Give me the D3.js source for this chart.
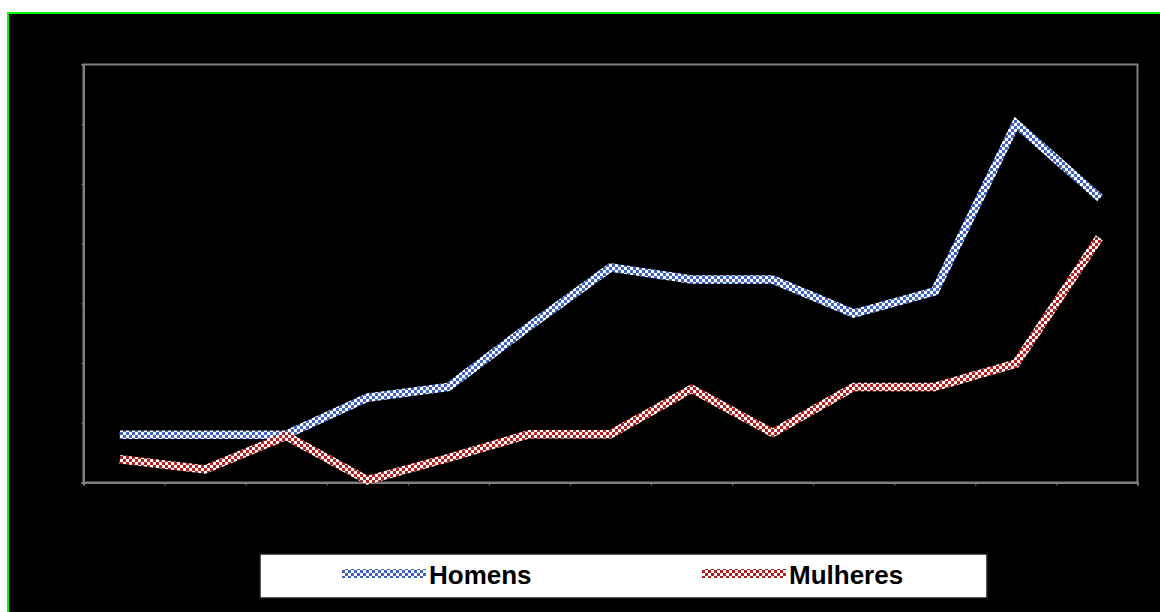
<!DOCTYPE html>
<html>
<head>
<meta charset="utf-8">
<script src="https://cdn.jsdelivr.net/npm/d3@7"></script>
<style>
  html, body { margin: 0; padding: 0; background: #ffffff; }
  svg { display: block; }
</style>
</head>
<body>
<svg id="chart" width="1160" height="612"></svg>
<script>
// ---- data ----
const categories = ["1","2","3","4","5","6","7","8","9","10","11","12","13"];
const homens   = [0.80, 0.80, 0.80, 1.42, 1.60, 2.62, 3.60, 3.40, 3.40, 2.83, 3.20, 6.01, 4.81];
const mulheres = [0.38, 0.22, 0.78, 0.04, 0.41, 0.81, 0.81, 1.57, 0.83, 1.60, 1.60, 1.99, 4.04];
const yTicks   = [0, 1, 2, 3, 4, 5, 6, 7];
const seriesNames = ["Homens", "Mulheres"];

const svg = d3.select("#chart");

// outer frame
svg.append("rect").attr("x", 8).attr("y", 13).attr("width", 1160).attr("height", 612)
  .attr("fill", "#000").attr("stroke", "#00ff00").attr("stroke-width", 2);

// patterns
const defs = svg.append("defs");
function checker(id, c) {
  const p = defs.append("pattern").attr("id", id).attr("patternUnits", "userSpaceOnUse")
    .attr("width", 6).attr("height", 6);
  p.append("rect").attr("width", 6).attr("height", 6).attr("fill", "#ffffff");
  p.append("rect").attr("x", 0).attr("y", 0).attr("width", 3).attr("height", 3).attr("fill", c);
  p.append("rect").attr("x", 3).attr("y", 3).attr("width", 3).attr("height", 3).attr("fill", c);
}
checker("patBlue", "#3f63c4");
checker("patRed", "#b5201e");

const plot = { left: 83.5, top: 64.5, right: 1137.5, bottom: 482.5 };

const x = d3.scaleBand().domain(categories).range([plot.left, plot.right]).padding(0);
const xEdge = d3.scaleLinear().domain([0, categories.length]).range([plot.left, plot.right]);
const y = d3.scaleLinear().domain([0, 7]).range([plot.bottom, plot.top]);

// plot area border
svg.append("rect").attr("x", plot.left).attr("y", plot.top)
  .attr("width", plot.right - plot.left).attr("height", plot.bottom - plot.top)
  .attr("fill", "#000").attr("stroke", "#7f7f7f").attr("stroke-width", 2);

// axes
const yAxis = svg.append("g").attr("transform", `translate(${plot.left},0)`)
  .call(d3.axisLeft(y).tickValues(yTicks).tickSize(2).tickFormat(""));
const xAxis = svg.append("g").attr("transform", `translate(0,${plot.bottom})`)
  .call(d3.axisBottom(xEdge).tickValues(d3.range(categories.length + 1)).tickSize(3).tickFormat(""));
[yAxis, xAxis].forEach(g => {
  g.selectAll("path").attr("stroke", "#7f7f7f").attr("stroke-width", 2);
  g.selectAll("line").attr("stroke", "#7f7f7f").attr("stroke-width", 1);
});

// lines
const line = d3.line()
  .x((d, i) => x(categories[i]) + x.bandwidth() / 2)
  .y(d => y(d));

const series = [
  { name: seriesNames[0], values: homens, fill: "url(#patBlue)" },
  { name: seriesNames[1], values: mulheres, fill: "url(#patRed)" }
];
series.forEach(s => {
  svg.append("path").datum(s.values).attr("d", line)
    .attr("fill", "none").attr("stroke", s.fill).attr("stroke-width", 8.5)
    .attr("stroke-linejoin", "miter").attr("stroke-linecap", "square");
});

// legend
const lg = svg.append("g");
lg.append("rect").attr("x", 260).attr("y", 554).attr("width", 727).attr("height", 44)
  .attr("fill", "#ffffff").attr("stroke", "#1e1e1e").attr("stroke-width", 1.5);
const legendX = [342, 702];
series.forEach((s, i) => {
  lg.append("rect").attr("x", legendX[i]).attr("y", 569).attr("width", 84).attr("height", 9)
    .attr("fill", s.fill);
  lg.append("text").attr("x", legendX[i] + 87).attr("y", 584)
    .attr("font-family", "Liberation Sans, Arial, sans-serif").attr("font-weight", "bold")
    .attr("font-size", 26).attr("fill", "#000").text(s.name);
});
</script>
</body>
</html>
